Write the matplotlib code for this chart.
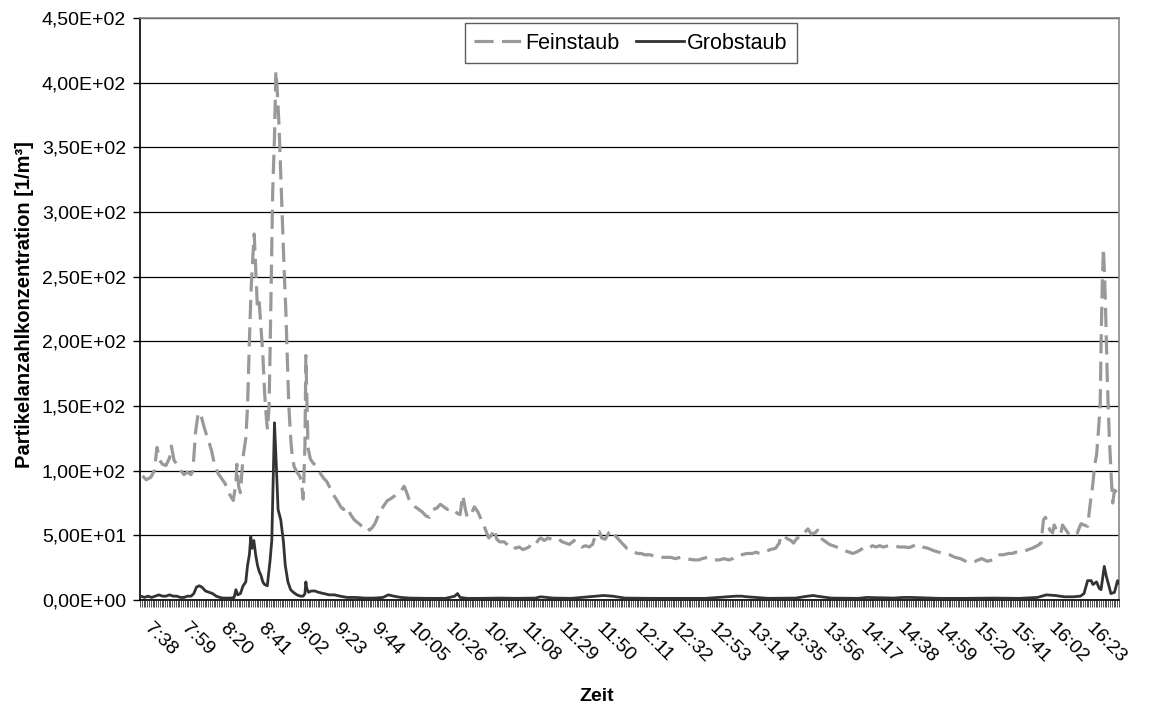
"""Partikelanzahlkonzentration Feinstaub / Grobstaub über den Tag."""

import matplotlib
matplotlib.use("Agg")
from matplotlib import pyplot as plt
from matplotlib.ticker import FixedLocator, FuncFormatter

# Kategorien: eine pro Minute, ab 7:38
start_h, start_min = 7, 38
n_cat = 546
label_step = 21

# Feinstaub (Minute seit 7:38, Wert)
fein_min = [0.9, 3, 5.6, 7.5, 9, 10.5, 12, 14, 16, 17, 18.5, 20, 22.3, 24, 26,
            27.9, 29, 30.5, 32, 33.5, 35, 36.5, 38, 39.5, 41, 43, 45, 47, 48.5,
            50.2, 51.5, 53, 53.5, 54.5, 55.5, 57, 58.5, 59.5, 60.5, 61.5, 62.3,
            63.2, 64, 65, 66, 67, 68, 69, 70, 70.6, 71.5, 72.5, 73.5, 74.5,
            75.3, 76, 77, 78, 79, 79.9, 80.8, 81.7, 82.5, 83.7, 84.5, 85.5,
            87.4, 88.5, 89.5, 90.5, 91.5, 92, 92.5, 93.2, 94.5, 96, 97.5, 99,
            100.5, 102, 103.5, 105, 107, 109, 111.5, 113, 115, 117, 119, 121.7,
            124, 126, 127.5, 129, 130.5, 132, 134, 136, 137.5, 139, 141, 143,
            145, 146.8, 148, 149.5, 151, 153, 155, 157, 159, 161, 163, 165,
            167, 169, 171, 173, 175, 176.5, 178, 179.5, 181, 182, 184, 186,
            188, 190.5, 192, 194, 195.5, 197, 198.5, 200, 202.6, 205, 207, 209,
            211, 213, 215, 216.5, 218, 220, 222, 223, 225, 227, 229, 231, 233,
            235, 237, 239, 241.6, 243, 245, 246, 248, 250, 251.9, 253.5, 255.6,
            257, 259, 261, 263, 265, 267, 269, 271, 273, 275, 277, 279, 281,
            284, 286, 289, 292, 295.6, 298, 301, 303, 306, 309, 311, 313, 316,
            318, 320, 322.6, 325, 328, 330, 332, 335, 338, 341, 343, 345, 348,
            351, 354, 356, 357, 359, 361, 362.6, 364, 366, 368, 370, 372, 374,
            376, 377.4, 378, 380, 382, 384, 386, 388, 390, 393, 395, 397, 399,
            401.6, 404, 406, 408, 410, 412, 414, 417, 420, 423, 426, 428.5, 431,
            433, 436, 439, 442.5, 445, 448, 451, 454, 457, 460, 462, 464, 467,
            469, 472, 475, 478, 481, 484, 486, 488, 491, 494.5, 497, 500, 502,
            503.4, 504.5, 505.7, 507, 508.5, 509.4, 511, 512, 513, 514, 516,
            518, 520, 522, 524.3, 526, 528, 529.5, 530.8, 532, 533, 534, 535,
            535.6, 536.2, 536.8, 537.5, 538.2, 539, 540, 541, 542, 543, 544.5,
            545.6]
fein_val = [96, 93, 95, 100, 118, 108, 105, 104, 110, 119, 108, 105, 100, 97, 99,
            97, 100, 130, 145, 143, 135, 128, 122, 115, 105, 98, 94, 90, 84,
            80, 77, 90, 105, 88, 83, 111, 125, 150, 200, 241, 262,
            283, 257, 225, 230, 210, 190, 160, 140, 132, 150, 230, 315, 358,
            409, 395, 368, 330, 290, 255, 225, 185, 150, 122, 110, 103,
            98, 96, 92, 78, 120, 189, 160, 118, 109, 106, 104, 101,
            97, 94, 92, 88, 82, 78, 72, 70, 72, 66, 62, 59,
            56, 57, 54, 56, 59, 64, 70, 74, 77, 78, 80, 82,
            84, 88, 84, 78, 75, 72, 70, 68, 65, 64, 70, 71,
            74, 72, 70, 71, 69, 67, 66, 81, 70, 64, 66, 72,
            68, 60, 55, 48, 50, 55, 47, 45, 45, 42, 43, 40,
            41, 39, 40, 41, 44, 43, 47, 48, 46, 48, 47, 46, 47,
            45, 44, 43, 46, 43, 42, 41, 42, 41, 43, 50, 53,
            48, 47, 52, 54, 49, 46, 43, 40, 39, 37, 36, 36, 35,
            35, 34, 33, 33, 33, 32, 33, 32, 31.5, 31, 31, 32, 33,
            32, 31, 31, 32, 31, 32, 34, 35, 36, 36, 37, 36, 37,
            39, 40, 44, 50, 49, 47, 46, 44, 48, 48, 52, 55, 51,
            52, 54, 50, 47, 45, 43, 42, 41, 40, 38, 37, 36, 37,
            39, 41, 40, 42, 41, 42, 41, 42, 42, 41, 41, 40.5, 42,
            43, 41, 40, 38, 37, 35.6, 35, 33, 32, 30, 29, 29, 31,
            32, 30, 31, 35, 35, 36, 36, 37, 37, 38.7, 40, 42, 44,
            62, 64, 59, 54, 52, 58, 53, 52, 51, 58, 54,
            50, 50, 51, 59, 58, 57, 75, 88, 105, 112, 130, 150,
            205, 245, 272, 250, 215, 170, 130, 100, 75, 85, 83,
            85]

# Grobstaub
grob_min = [0, 2, 4, 6, 8, 10, 12, 14, 16, 18, 20, 22, 24, 26, 28, 29.5, 31,
            32.5, 34, 36, 38, 40, 42, 44, 46, 48, 50, 52, 53, 54, 55.5, 57,
            58.5, 59.5, 60.5, 61.3, 62, 63, 64, 65, 66, 67, 68, 69, 70.5, 72,
            73, 74.5, 75.5, 76.5, 78, 79.5, 80.5, 82, 83.5, 85, 87, 89, 90.5,
            91.5, 92, 92.5, 93.5, 95, 97, 99, 102, 105, 108, 111, 115, 120,
            125, 130, 135, 138, 141, 145, 150, 160, 170, 175, 176.6, 178, 182,
            190, 200, 210, 220, 223, 230, 240, 254, 258, 263, 270, 285, 300,
            315, 332, 335, 338, 350, 365, 372, 375, 377, 385, 400, 405, 420,
            425, 430, 445, 460, 475, 490, 500, 505, 510, 515, 520, 524, 526,
            528, 530, 531, 533, 534.5, 535.5, 537.3, 538.5, 539.5, 541, 543,
            544.7, 545.6]
grob_val = [3, 2, 3, 2, 3, 4, 3, 3, 4, 3, 3, 2, 2, 3, 3, 5, 10,
            11, 10, 7, 6, 5, 3, 2, 1.5, 1.5, 1.5, 2, 8, 4, 5, 11,
            14, 27, 35, 49, 40, 46, 35, 27, 22, 19, 14, 12, 11, 30,
            46, 137, 105, 70, 62, 45, 27, 14, 8, 6, 4, 3, 3,
            5, 14, 9, 6, 7, 7, 6, 5, 4, 4, 3, 2, 2,
            1.5, 1.5, 2, 4, 3, 2, 1.5, 1.3, 1.3, 3, 5, 2, 1.3,
            1.3, 1.5, 1.3, 1.5, 2.5, 1.5, 1.3, 3, 3.5, 3, 1.5, 1.3, 1.3,
            1.3, 3, 3, 2.5, 1.3, 1.5, 3, 3.5, 3, 1.5, 1.3, 2, 1.5,
            2, 2, 1.3, 1.3, 1.5, 1.3, 2, 4, 3.5, 2.5, 2.5, 3, 5,
            15, 15, 12, 14, 9, 8, 26, 18, 13, 5, 6,
            15, 13]

y_ticks = [0, 50, 100, 150, 200, 250, 300, 350, 400, 450]


def cat_label(i):
    t = start_h * 60 + start_min + i
    return f"{t // 60}:{t % 60:02d}"


def sci_de(v, _pos=None):
    return f"{v:.2E}".replace(".", ",")


plt.rcParams["font.family"] = ["Liberation Sans", "DejaVu Sans"]
fig = plt.figure(figsize=(11.58, 7.09), dpi=100)
ax = fig.add_axes([0.1209, 0.1537, 0.8454, 0.8209])

ax.plot(fein_min, fein_val, color="#999999", linewidth=2.3,
        dashes=(6, 2.6), label="Feinstaub", zorder=3)
ax.plot(grob_min, grob_val, color="#333333", linewidth=2.0,
        label="Grobstaub", zorder=4)

ax.set_xlim(-0.5, n_cat - 0.5)
ax.set_ylim(0, 450)

# y-Achse
ax.set_yticks(y_ticks)
ax.yaxis.set_major_formatter(FuncFormatter(sci_de))
ax.tick_params(axis="y", direction="out", length=5, width=1, color="black",
               labelsize=14, pad=5)
ax.grid(axis="y", color="black", linewidth=0.9)
ax.set_axisbelow(True)

# x-Achse: Striche je Kategorie, Beschriftung alle 21 Minuten
lab_idx = list(range(0, n_cat, label_step))
ax.xaxis.set_major_locator(FixedLocator(lab_idx))
ax.set_xticklabels([cat_label(i) for i in lab_idx])
ax.xaxis.set_minor_locator(FixedLocator([i - 0.5 for i in range(n_cat + 1)]))
ax.tick_params(axis="x", which="major", length=0, labelsize=14, pad=14)
ax.tick_params(axis="x", which="minor", direction="out", length=5,
               width=0.6, color="#333333")
plt.setp(ax.get_xticklabels(), rotation=-45, ha="left", va="top")

for side in ("top", "right"):
    ax.spines[side].set_color("#888888")
    ax.spines[side].set_linewidth(1.2)
for side in ("left", "bottom"):
    ax.spines[side].set_color("black")
    ax.spines[side].set_linewidth(1.2)

ax.set_xlabel("Zeit", fontsize=14, fontweight="bold")
ax.xaxis.set_label_coords(0.466, -0.152)
ax.set_ylabel("Partikelanzahlkonzentration [1/m³]", fontsize=14.5,
              fontweight="bold")
ax.yaxis.label.set_va("center")
ax.yaxis.set_label_coords(-0.118, 0.507)

leg = ax.legend(loc="upper center", bbox_to_anchor=(0.5015, 0.991), ncol=2,
                fontsize=15.5, frameon=True, fancybox=False, borderaxespad=0,
                handlelength=2.2, handletextpad=0.15, columnspacing=0.8,
                borderpad=0.44)
leg.get_frame().set_edgecolor("#333333")
leg.get_frame().set_linewidth(1.0)

fig.savefig("out.png", dpi=100)
plt.close(fig)
